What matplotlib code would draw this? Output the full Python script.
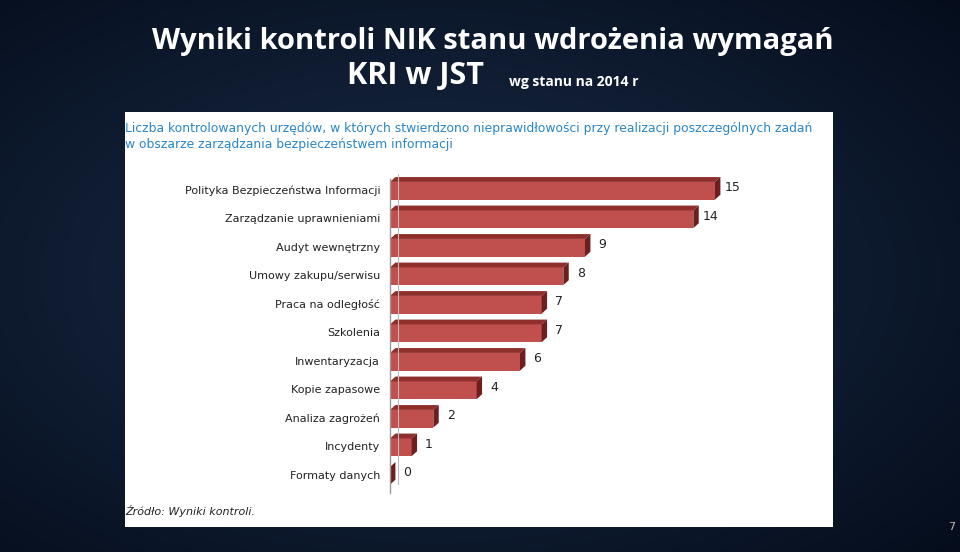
import matplotlib
matplotlib.use("Agg")
import matplotlib.pyplot as plt
import numpy as np
from matplotlib.patches import Polygon, Rectangle

categories = ["Polityka Bezpieczeństwa Informacji", "Zarządzanie uprawnieniami", "Audyt wewnętrzny",
              "Umowy zakupu/serwisu", "Praca na odległość", "Szkolenia", "Inwentaryzacja",
              "Kopie zapasowe", "Analiza zagrożeń", "Incydenty", "Formaty danych"]
values = [15, 14, 9, 8, 7, 7, 6, 4, 2, 1, 0]

fig = plt.figure(figsize=(9.6, 5.52), dpi=100)
bg = fig.add_axes([0, 0, 1, 1])
g = np.linspace(0, 1, 256)
X, Y = np.meshgrid(g, g)
R = np.sqrt((X - 0.45) ** 2 + (Y - 0.5) ** 2)
c1 = np.array([0x1a, 0x2c, 0x48]) / 255
c2 = np.array([0x05, 0x0d, 0x1c]) / 255
t = np.clip(R / 0.75, 0, 1)[..., None]
img = c1 * (1 - t) + c2 * t
bg.imshow(img, extent=[0, 1, 0, 1], aspect="auto")
bg.set_xlim(0, 1); bg.set_ylim(0, 1); bg.axis("off")
bg.text(0.513, 0.925, "Wyniki kontroli NIK stanu wdrożenia wymagań", color="white",
        fontsize=21, fontweight="bold", ha="center", va="center", family="Open Sans")
bg.text(0.361, 0.862, "KRI w JST", color="white", fontsize=22, fontweight="bold",
        ha="left", va="center", family="Open Sans")
bg.text(0.53, 0.852, "wg stanu na 2014 r", color="white", fontsize=10, fontweight="bold",
        ha="left", va="center", family="Open Sans")
bg.text(0.995, 0.045, "7", color="#bbbbbb", fontsize=8, ha="right", va="center")

panel = fig.add_axes([125/960, 1-527/552, (833-125)/960, (527-112)/552])
panel.set_facecolor("white"); panel.set_xticks([]); panel.set_yticks([])
for s in panel.spines.values(): s.set_visible(False)
panel.text(0.0, 0.975, "Liczba kontrolowanych urzędów, w których stwierdzono nieprawidłowości przy realizacji poszczególnych zadań\nw obszarze zarządzania bezpieczeństwem informacji",
           color="#2a86c8", fontsize=8.9, va="top", ha="left", transform=panel.transAxes, linespacing=1.25)
panel.text(0.0, 0.025, "Źródło: Wyniki kontroli.", color="#222222", fontsize=8, style="italic",
           va="bottom", ha="left", transform=panel.transAxes)

ax = fig.add_axes([390/960, 1-490/552, 390/960, 313.5/552])
ax.set_xlim(0, 18); ax.set_ylim(10.5, -0.5); ax.axis("off")
h = 0.62; dx = 0.25; dy = 0.17
ax.plot([-0.02, -0.02], [-0.4, 10.6], color="#999999", lw=1, clip_on=False)
ax.plot([0.35, 0.35], [-0.6, 10.3], color="#bbbbbb", lw=0.8, clip_on=False)
for i, (c, v) in enumerate(zip(categories, values)):
    top = i - h / 2; bot = i + h / 2
    w = max(v, 0.0)
    ax.add_patch(Rectangle((0, top), w, h, facecolor="#c0504d", edgecolor="none", clip_on=False))
    ax.add_patch(Polygon([(0, top), (w, top), (w + dx, top - dy), (dx, top - dy)],
                         facecolor="#8e2f2c", edgecolor="none", clip_on=False))
    ax.add_patch(Polygon([(w, top), (w + dx, top - dy), (w + dx, bot - dy), (w, bot)],
                         facecolor="#6e1e1c", edgecolor="none", clip_on=False))
    ax.text(-0.45, i, c, ha="right", va="center", fontsize=8, color="#222222", clip_on=False)
    ax.text(w + 0.8, i - 0.1, str(v), ha="center", va="center", fontsize=9, color="#222222", clip_on=False)

fig.savefig("out.png", dpi=100)
